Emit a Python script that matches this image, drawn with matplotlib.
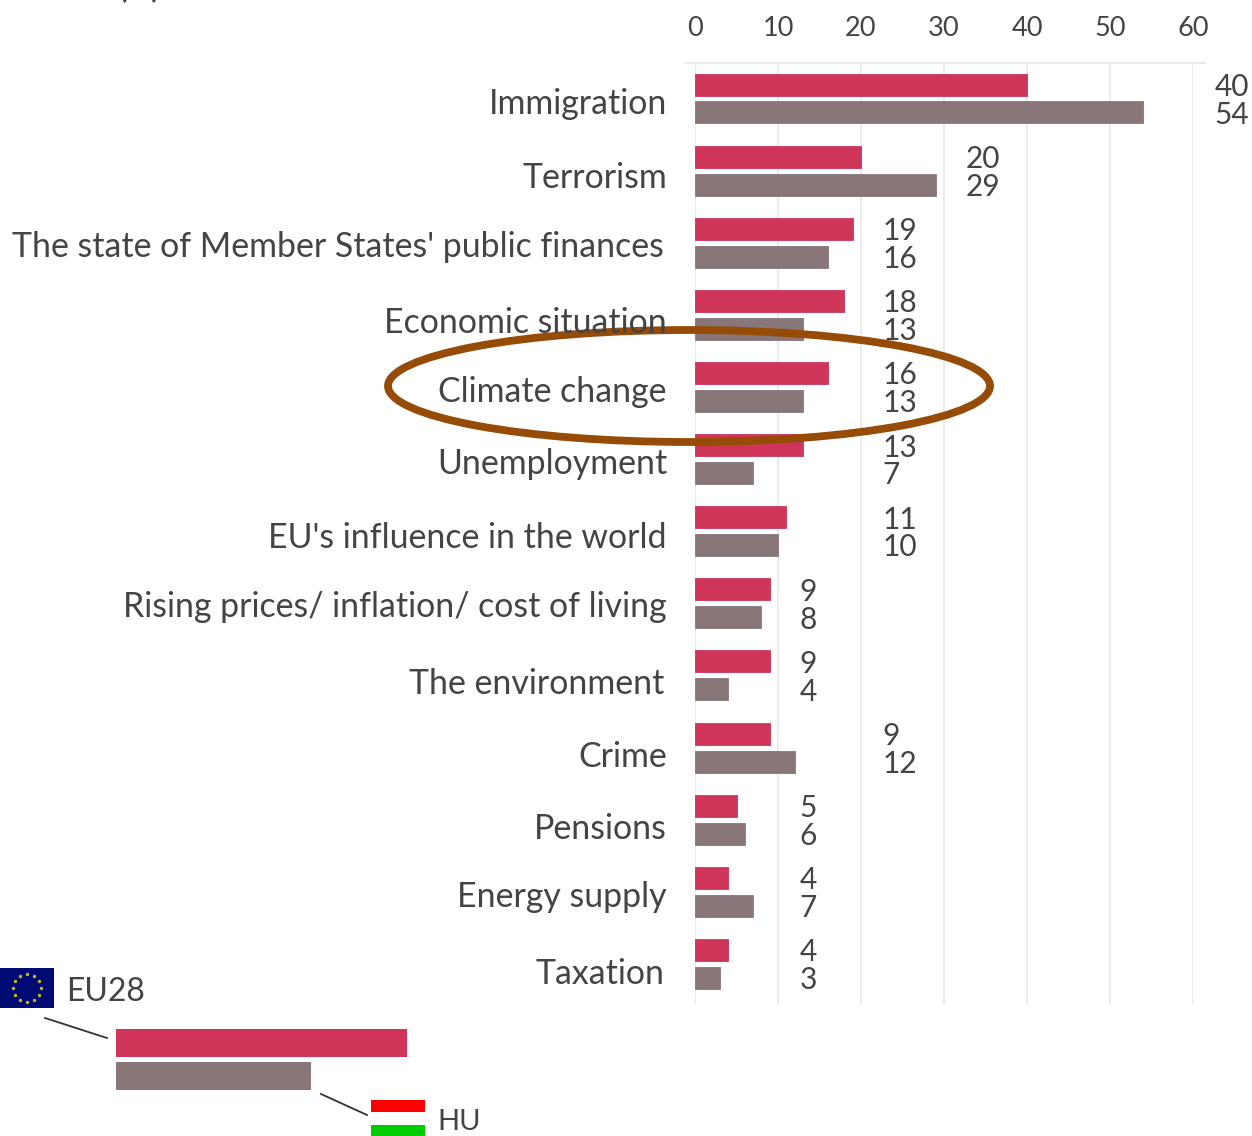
import numpy as np
import matplotlib
matplotlib.use("Agg")
import matplotlib.pyplot as plt
from matplotlib.patches import Ellipse, Rectangle

W, H = 1252, 1136

categories = ["Immigration", "Terrorism", "The state of Member States' public finances",
              "Economic situation", "Climate change", "Unemployment",
              "EU's influence in the world", "Rising prices/ inflation/ cost of living",
              "The environment", "Crime", "Pensions", "Energy supply", "Taxation"]
eu28 = [40, 20, 19, 18, 16, 13, 11, 9, 9, 9, 5, 4, 4]
hu = [54, 29, 16, 13, 13, 7, 10, 8, 4, 12, 6, 7, 3]
x_ticks = [0, 10, 20, 30, 40, 50, 60]

# the labels sit a little off the row centre and off the right edge in the source
label_dy = [6, 7, 4, 8, 5, 5, 7, 4, 9, 9, 9, 5, 10]
label_dx = [0, 0, -3, 0, 0, 0, 0, 0, -3, 0, 0, 0, -3]

RED = "#cf3558"
GREY = "#887678"
TEXT = "#444444"
GRID = "#e6e6e6"
BROWN = "#964b06"

plt.rcParams["font.family"] = ["Lato", "DejaVu Sans"]

fig = plt.figure(figsize=(W / 100, H / 100), dpi=100)

# main chart, placed in pixels
left, right, top, bottom = 695, 1193, 63, 1005
ax = fig.add_axes([left / W, 1 - bottom / H, (right - left) / W, (bottom - top) / H])
row = 72.12
ax.set_xlim(0, 60)
ax.set_ylim((bottom - 98.5) / row, (top - 98.5) / row)
ax.set_axisbelow(True)
ax.grid(axis="x", color=GRID, lw=1.1)
ax.xaxis.tick_top()
ax.set_xticks(x_ticks)
ax.tick_params(axis="x", length=0, labelsize=19.5, labelcolor=TEXT, pad=16)
ax.set_yticks([])
for s in ax.spines.values():
    s.set_visible(False)

y = np.arange(len(categories))
ax.barh(y - 0.194, eu28, height=0.305, color=RED, edgecolor=RED, lw=0.6)
ax.barh(y + 0.194, hu, height=0.305, color=GREY, edgecolor=GREY, lw=0.6)

# value labels snap to the next gridline, plus a fixed gap
for i in y:
    lx = np.ceil(max(eu28[i], hu[i]) / 10) * 10 + 2.6
    ax.text(lx, i - 0.16, str(eu28[i]), ha="left", va="center", fontsize=21.5, color=TEXT, clip_on=False)
    ax.text(lx, i + 0.225, str(hu[i]), ha="left", va="center", fontsize=21.5, color=TEXT, clip_on=False)

# overlay in pixel coordinates for labels, ellipse and key
ov = fig.add_axes([0, 0, 1, 1], facecolor="none")
ov.set_xlim(0, W)
ov.set_ylim(H, 0)
ov.axis("off")

ov.plot([685, 1205], [63, 63], color=GRID, lw=1.1)

# only the bottom of this line is left in the cropped source
ov.text(140, -3, "(%)", ha="center", va="baseline", fontsize=22, fontweight="bold", color=TEXT, clip_on=False)

for i, name in enumerate(categories):
    ov.text(667 + label_dx[i], 98.5 + row * i + label_dy[i], name, ha="right", va="center",
            fontsize=24.4, color=TEXT)

ov.add_patch(Ellipse((689, 386), 602, 112, fill=False, edgecolor=BROWN, lw=5.6))

# key
ov.add_patch(Rectangle((116, 1029), 291, 28, color=RED, lw=0))
ov.add_patch(Rectangle((116, 1062), 195, 28, color=GREY, lw=0))
ov.plot([45, 107], [1018, 1038], color="#333333", lw=1.3)
ov.plot([321, 367], [1094, 1115], color="#333333", lw=1.3)

ov.add_patch(Rectangle((0, 968), 54, 40, color="#000a73", lw=0))
angles = np.arange(12) * np.pi / 6
ov.scatter(27 + 14 * np.cos(angles), 988 + 14 * np.sin(angles), s=6, color="#c9b32a", lw=0)
ov.text(66, 992, "EU28", ha="left", va="center", fontsize=23, color=TEXT)

ov.add_patch(Rectangle((371, 1100), 54, 12, color="#ff0000", lw=0))
ov.add_patch(Rectangle((371, 1125), 54, 11, color="#00cc00", lw=0))
ov.text(437, 1122, "HU", ha="left", va="center", fontsize=21, color=TEXT)

fig.savefig("out.png", dpi=100)
